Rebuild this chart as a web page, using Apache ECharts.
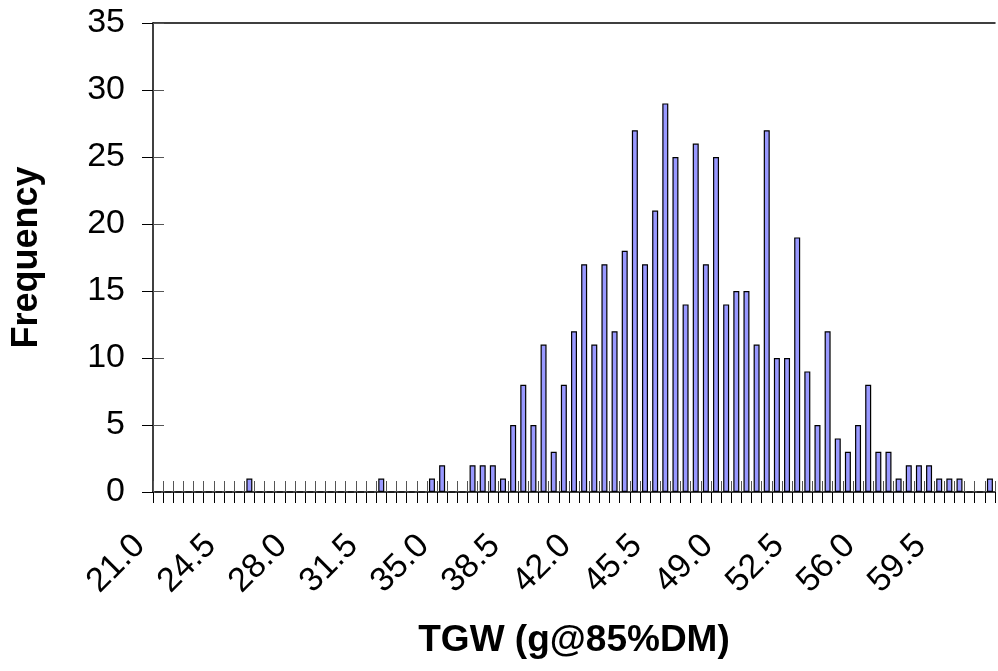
<!DOCTYPE html>
<html>
<head>
<meta charset="utf-8">
<title>TGW frequency</title>
<script src="https://cdn.jsdelivr.net/npm/echarts@6/dist/echarts.min.js"></script>
<style>
  html, body { margin: 0; padding: 0; background: #fff; }
  #main { width: 998px; height: 671px; }
</style>
</head>
<body>
<div id="main"></div>
<script>
// bin labels (g@85%DM), bin width 0.5
var categories = [
  '21.0', '21.5', '22.0', '22.5', '23.0', '23.5', '24.0', '24.5', '25.0', '25.5',
  '26.0', '26.5', '27.0', '27.5', '28.0', '28.5', '29.0', '29.5', '30.0', '30.5',
  '31.0', '31.5', '32.0', '32.5', '33.0', '33.5', '34.0', '34.5', '35.0', '35.5',
  '36.0', '36.5', '37.0', '37.5', '38.0', '38.5', '39.0', '39.5', '40.0', '40.5',
  '41.0', '41.5', '42.0', '42.5', '43.0', '43.5', '44.0', '44.5', '45.0', '45.5',
  '46.0', '46.5', '47.0', '47.5', '48.0', '48.5', '49.0', '49.5', '50.0', '50.5',
  '51.0', '51.5', '52.0', '52.5', '53.0', '53.5', '54.0', '54.5', '55.0', '55.5',
  '56.0', '56.5', '57.0', '57.5', '58.0', '58.5', '59.0', '59.5', '60.0', '60.5',
  '61.0', '61.5', '62.0'
];

// frequency per bin
var frequency = [
  0, 0, 0, 0, 0, 0, 0, 0, 0, 1,
  0, 0, 0, 0, 0, 0, 0, 0, 0, 0,
  0, 0, 1, 0, 0, 0, 0, 1, 2, 0,
  0, 2, 2, 2, 1, 5, 8, 5, 11, 3,
  8, 12, 17, 11, 17, 12, 18, 27, 17, 21,
  29, 25, 14, 26, 17, 25, 14, 15, 15, 11,
  27, 10, 10, 19, 9, 5, 12, 4, 3, 5,
  8, 3, 3, 1, 2, 2, 2, 1, 1, 1,
  0, 0, 1
];

// y axis ticks
var yMin = 0;
var yMax = 35;
var yStep = 5;

var font = 'Liberation Sans, Arial, sans-serif';
var chart = echarts.init(document.getElementById('main'));

var option = {
  animation: false,
  backgroundColor: '#fff',
  grid: { left: 153, right: 3, top: 23, bottom: 179 },
  xAxis: [
    {
      type: 'category',
      position: 'bottom',
      data: categories,
      boundaryGap: true,
      axisLine: { show: true, lineStyle: { color: '#000', width: 1.5 } },
      axisTick: { show: true, interval: 0, length: 11, lineStyle: { color: '#000' } },
      axisLabel: {
        interval: 6,
        rotate: 45,
        margin: 30,
        padding: [0, 26, 0, 0],
        color: '#000',
        fontFamily: font,
        fontSize: 34
      },
      name: 'TGW (g@85%DM)',
      nameLocation: 'middle',
      nameGap: 130,
      nameTextStyle: { color: '#000', fontFamily: font, fontSize: 37, fontWeight: 'bold' }
    },
    {
      type: 'category',
      position: 'bottom',
      data: categories,
      boundaryGap: true,
      axisLine: { show: false },
      axisTick: { show: true, inside: true, interval: 0, length: 11, lineStyle: { color: '#555' } },
      axisLabel: { show: false }
    },
    {
      type: 'category',
      position: 'top',
      data: categories,
      axisLine: { show: true, lineStyle: { color: '#000', width: 1.5 } },
      axisTick: { show: false },
      axisLabel: { show: false }
    }
  ],
  yAxis: [
    {
      type: 'value',
      position: 'left',
      min: yMin,
      max: yMax,
      interval: yStep,
      splitLine: { show: false },
      axisLine: { show: true, lineStyle: { color: '#000', width: 1.5 } },
      axisTick: { show: true, length: 11, lineStyle: { color: '#000' } },
      axisLabel: { margin: 28, color: '#000', fontFamily: font, fontSize: 34 },
      name: 'Frequency',
      nameLocation: 'middle',
      nameGap: 108,
      nameTextStyle: { color: '#000', fontFamily: font, fontSize: 36, fontWeight: 'bold' }
    },
    {
      type: 'value',
      position: 'left',
      min: yMin,
      max: yMax,
      interval: yStep,
      splitLine: { show: false },
      axisLine: { show: false },
      axisTick: { show: true, inside: true, length: 11, lineStyle: { color: '#555' } },
      axisLabel: { show: false }
    }
  ],
  series: [{
    type: 'bar',
    xAxisIndex: 0,
    yAxisIndex: 0,
    data: frequency,
    barWidth: 6,
    itemStyle: { color: '#9999FF', borderColor: '#000', borderWidth: 1.2 }
  }]
};

chart.setOption(option);
</script>
</body>
</html>
